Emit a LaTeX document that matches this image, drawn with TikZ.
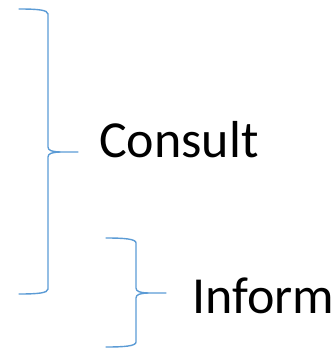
\documentclass[tikz,border=0pt]{standalone}
\usepackage{fontspec}
\setmainfont{Carlito}
\definecolor{bracecol}{RGB}{91,155,213}
\begin{document}
\begin{tikzpicture}[x=1pt,y=-1pt,
  bracestyle/.style={draw=bracecol,line width=1.4pt,line cap=round,line join=round},
  label/.style={inner sep=0pt,anchor=base west,font=\fontsize{52}{60}\selectfont}]
\useasboundingbox (0,0) rectangle (336,348);
% large brace
\draw[bracestyle] (19,9) .. controls (38,9) and (48,10) .. (48,14)
  -- (48,147) .. controls (48,150.5) and (52,151.7) .. (60,152) -- (78,152);
\draw[bracestyle] (19,294) .. controls (38,294) and (48,293) .. (48,289)
  -- (48,157) .. controls (48,153.5) and (52,152.3) .. (60,152);
% small brace
\draw[bracestyle] (106,238) .. controls (125,238) and (136,239) .. (136,243)
  -- (136,288) .. controls (136,291.5) and (140,292.7) .. (148,293) -- (166,293);
\draw[bracestyle] (106,347) .. controls (125,347) and (136,346) .. (136,342)
  -- (136,298) .. controls (136,294.5) and (140,293.3) .. (148,293);
\node[label] (consult) at (99,157) {Consult};
\node[label] (inform) at (192,313) {Inform};
\end{tikzpicture}
\end{document}
